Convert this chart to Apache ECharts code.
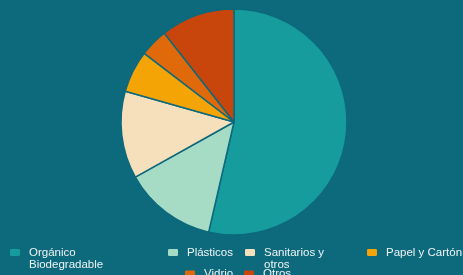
<!DOCTYPE html>
<html lang="es">
<head>
    <meta charset="UTF-8">
    <title>Residuos</title>
    <script type="text/javascript" src="https://cdn.jsdelivr.net/npm/echarts@6/dist/echarts.min.js"></script>
    <style>
        html, body { margin: 0; padding: 0; background: #0d697c; }
        #pie { width: 463px; height: 275px; }
    </style>
</head>
<body>
<div id="pie"></div>
<script>
    // categorias y porcentajes
    var categorias = ['Orgánico\nBiodegradable', 'Plásticos', 'Sanitarios y\notros', 'Papel y Cartón', 'Vidrio', 'Otros'];
    var valores = [53.6, 13.3, 12.5, 6, 4, 10.6];
    var colores = ['#169c9d', '#a6dcc6', '#f6e0bc', '#f5a405', '#e0690a', '#c8450c'];

    var mychart = echarts.init(document.getElementById('pie'));

    // posicion de cada leyenda [left, centro del icono]
    var posLeyenda = [[8, 252.5], [166, 252.5], [243, 252.5], [365, 252.5], [183, 274], [242, 274]];

    var leyendas = [];
    for (var i = 0; i < categorias.length; i++) {
        var dosLineas = categorias[i].indexOf('\n') >= 0;
        // linea vacia arriba: asi la primera linea queda a la altura del icono
        var alto = dosLineas ? 36 : 12;
        leyendas.push({
            data: [categorias[i]],
            left: posLeyenda[i][0],
            top: posLeyenda[i][1] - alto / 2,
            padding: 0,
            itemWidth: 12,
            itemHeight: 9,
            icon: 'roundRect',
            selectedMode: false,
            formatter: dosLineas ? function (name) { return ' \n' + name; } : '{name}',
            textStyle: {
                color: '#eef4f4',
                fontFamily: 'Liberation Sans',
                fontSize: 11.5,
                lineHeight: 12,
                padding: [0, 0, 0, 3]
            }
        });
    }

    var datos = [];
    for (var j = 0; j < categorias.length; j++) {
        datos.push({name: categorias[j], value: valores[j], itemStyle: {color: colores[j]}});
    }

    var option = {
        backgroundColor: '#0d697c',
        animation: false,
        legend: leyendas,
        series: [{
            type: 'pie',
            center: [234, 122],
            radius: 113,
            startAngle: 90,
            clockwise: true,
            label: {show: false},
            labelLine: {show: false},
            itemStyle: {borderColor: '#0d697c', borderWidth: 1.5},
            data: datos
        }]
    };
    mychart.setOption(option);
</script>
</body>
</html>
